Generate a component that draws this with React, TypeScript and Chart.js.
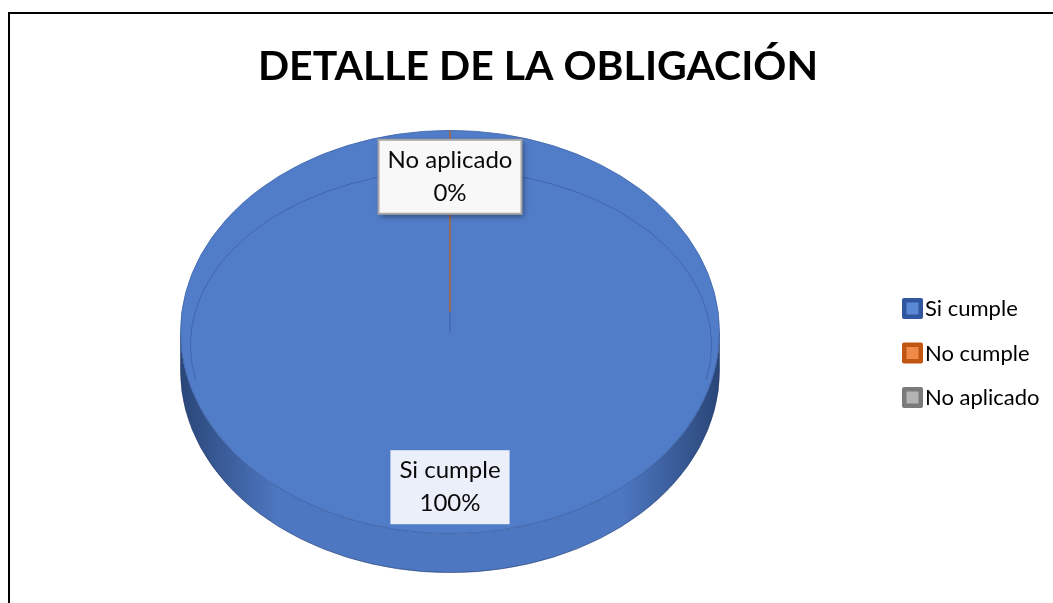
import React, { useEffect, useRef } from "react";
import { Chart, registerables } from "chart.js";

Chart.register(...registerables);

// ---- data ----
const TITLE = "DETALLE DE LA OBLIGACIÓN";
const categories = ["Si cumple", "No cumple", "No aplicado"];
const values = [100, 0, 0];
const showLabel = [true, false, true];

// ---- styles ----
const faceColors = ["#517CC8", "#ED7D31", "#A5A5A5"];
const faceBorders = ["#4468AE", "#C55A11", "#8C8C8C"];
const sideDark = ["#2A4678", "#8A3F0C", "#6A6A6A"];
const sideMid = ["#4D77C1", "#E07428", "#9C9C9C"];
const legendBorder = ["#2F569E", "#C0560F", "#7A7A7A"];
const legendFill = ["#5B89D6", "#F08A48", "#B4B4B4"];
const labelFill = ["rgba(255,255,255,0.88)", "#F8F8F8", "#F8F8F8"];
const labelBorder = ["", "#A6A6A6", "#A6A6A6"];
const labelShadow = [false, true, true];

const FONT = "Lato, 'Open Sans', sans-serif";
const TILT = 0.748;
const DEPTH = 39;
const LABEL_R = 0.77;

const pie3d = {
  id: "pie3d",
  beforeDatasetsDraw(chart: any) {
    const ctx = chart.ctx;
    const arcs = chart.getDatasetMeta(0).data;
    const p = arcs[0].getProps(["x", "y", "outerRadius"], true);
    const cx = p.x, cy = p.y, r = p.outerRadius, ry = r * TILT;
    ctx.save();
    arcs.forEach((arc: any, i: number) => {
      const { startAngle: s, endAngle: e } = arc.getProps(["startAngle", "endAngle"], true);
      if (e - s <= 0) return;
      const grad = ctx.createLinearGradient(cx - r, 0, cx + r, 0);
      grad.addColorStop(0, sideDark[i]);
      grad.addColorStop(0.18, sideMid[i]);
      grad.addColorStop(0.5, sideMid[i]);
      grad.addColorStop(0.82, sideMid[i]);
      grad.addColorStop(1, sideDark[i]);
      for (const off of [-2 * Math.PI, 0, 2 * Math.PI]) {
        const lo = Math.max(s, off), hi = Math.min(e, off + Math.PI);
        if (hi > lo) {
          ctx.beginPath();
          ctx.ellipse(cx, cy, r, ry, 0, lo - off, hi - off, false);
          ctx.ellipse(cx, cy + DEPTH, r, ry, 0, hi - off, lo - off, true);
          ctx.closePath();
          ctx.fillStyle = grad;
          ctx.fill();
          ctx.strokeStyle = "rgba(40,64,110,0.6)";
          ctx.lineWidth = 1;
          ctx.stroke();
        }
      }
    });
    ctx.restore();
    ctx.save();
    ctx.translate(0, cy);
    ctx.scale(1, TILT);
    ctx.translate(0, -cy);
  },
  afterDatasetsDraw(chart: any) {
    const ctx = chart.ctx;
    ctx.restore();
    const arcs = chart.getDatasetMeta(0).data;
    const p = arcs[0].getProps(["x", "y", "outerRadius"], true);
    const cx = p.x, cy = p.y, r = p.outerRadius, ry = r * TILT;

    // bevel line on top face
    ctx.save();
    ctx.beginPath();
    ctx.ellipse(cx + 1, cy + r * 0.048, r * 0.967, ry * 0.866, 0, Math.PI - 0.2, 2 * Math.PI + 0.2, false);
    ctx.strokeStyle = "rgba(45,75,135,0.45)";
    ctx.lineWidth = 1;
    ctx.stroke();
    ctx.restore();

    // zero-size slices drawn as radial lines
    for (let i = arcs.length - 1; i >= 0; i--) {
      const { startAngle: s, endAngle: e } = arcs[i].getProps(["startAngle", "endAngle"], true);
      if (e - s > 0) continue;
      ctx.save();
      ctx.beginPath();
      ctx.moveTo(cx, cy - ry * 0.1);
      ctx.lineTo(cx + r * Math.cos(s), cy + ry * Math.sin(s));
      ctx.strokeStyle = faceBorders[i];
      ctx.lineWidth = 1;
      ctx.stroke();
      ctx.restore();
    }

    // data labels
    const total = values.reduce((a, b) => a + b, 0);
    arcs.forEach((arc: any, i: number) => {
      if (!showLabel[i]) return;
      const { startAngle: s, endAngle: e } = arc.getProps(["startAngle", "endAngle"], true);
      const mid = (s + e) / 2;
      const lx = cx + r * LABEL_R * Math.cos(mid);
      const ly = cy + ry * LABEL_R * Math.sin(mid);
      const lines = [categories[i], Math.round((values[i] / total) * 100) + "%"];
      ctx.save();
      ctx.font = `24px ${FONT}`;
      const w = Math.max(...lines.map((t) => ctx.measureText(t).width));
      const lineH = 33;
      const bw = w + 18, bh = lineH * lines.length + 8;
      const bx = lx - bw / 2, by = ly - bh / 2;
      if (labelShadow[i]) {
        ctx.shadowColor = "rgba(0,0,0,0.45)";
        ctx.shadowBlur = 6;
        ctx.shadowOffsetX = 2;
        ctx.shadowOffsetY = 2;
      }
      ctx.fillStyle = labelFill[i];
      ctx.fillRect(bx, by, bw, bh);
      ctx.shadowColor = "transparent";
      if (labelBorder[i]) {
        ctx.strokeStyle = labelBorder[i];
        ctx.lineWidth = 2;
        ctx.strokeRect(bx, by, bw, bh);
      }
      ctx.fillStyle = "#0a0a0a";
      ctx.textAlign = "center";
      ctx.textBaseline = "middle";
      lines.forEach((t, k) => {
        ctx.fillText(t, lx, ly + (k - (lines.length - 1) / 2) * lineH);
      });
      ctx.restore();
    });
  },
  afterDraw(chart: any) {
    const ctx = chart.ctx;
    ctx.save();
    // title
    ctx.font = `bold 41px ${FONT}`;
    ctx.fillStyle = "#000";
    ctx.textAlign = "center";
    ctx.textBaseline = "alphabetic";
    ctx.fillText(TITLE, 538, 80);
    // legend
    ctx.font = `22px ${FONT}`;
    ctx.textAlign = "left";
    ctx.textBaseline = "middle";
    categories.forEach((c, i) => {
      const y = 308 + i * 44.5;
      ctx.fillStyle = legendBorder[i];
      ctx.beginPath();
      ctx.roundRect(902, y - 10, 21, 21, 2);
      ctx.fill();
      ctx.fillStyle = legendFill[i];
      ctx.fillRect(906.5, y - 5.5, 12, 12);
      ctx.fillStyle = "#000";
      ctx.fillText(c, 925, y + 1);
    });
    ctx.restore();
  },
};

export default function App() {
  const ref = useRef<HTMLCanvasElement | null>(null);
  useEffect(() => {
    if (!ref.current) return;
    const chart = new Chart(ref.current, {
      type: "pie",
      data: {
        labels: categories,
        datasets: [
          {
            data: values,
            backgroundColor: faceColors,
            borderColor: faceBorders,
            borderWidth: 1,
          },
        ],
      },
      options: {
        animation: false,
        responsive: false,
        layout: { padding: { left: 180, right: 333, top: 62, bottom: 1 } },
        plugins: {
          legend: { display: false },
          title: { display: false },
          tooltip: { enabled: false },
        },
      },
      plugins: [pie3d],
    });
    return () => chart.destroy();
  }, []);
  return (
    <div
      style={{
        position: "fixed",
        left: 0,
        top: 0,
        width: 1053,
        height: 603,
        overflow: "hidden",
        background: "#fff",
      }}
    >
      <div
        style={{
          position: "absolute",
          left: 8,
          top: 12,
          width: 1200,
          height: 800,
          borderLeft: "2.5px solid #000",
          borderTop: "2px solid #000",
          boxShadow: "0 1px 0 #ccc",
        }}
      />
      <canvas
        ref={ref}
        width={1053}
        height={603}
        style={{ position: "absolute", left: 0, top: 0 }}
      />
    </div>
  );
}
